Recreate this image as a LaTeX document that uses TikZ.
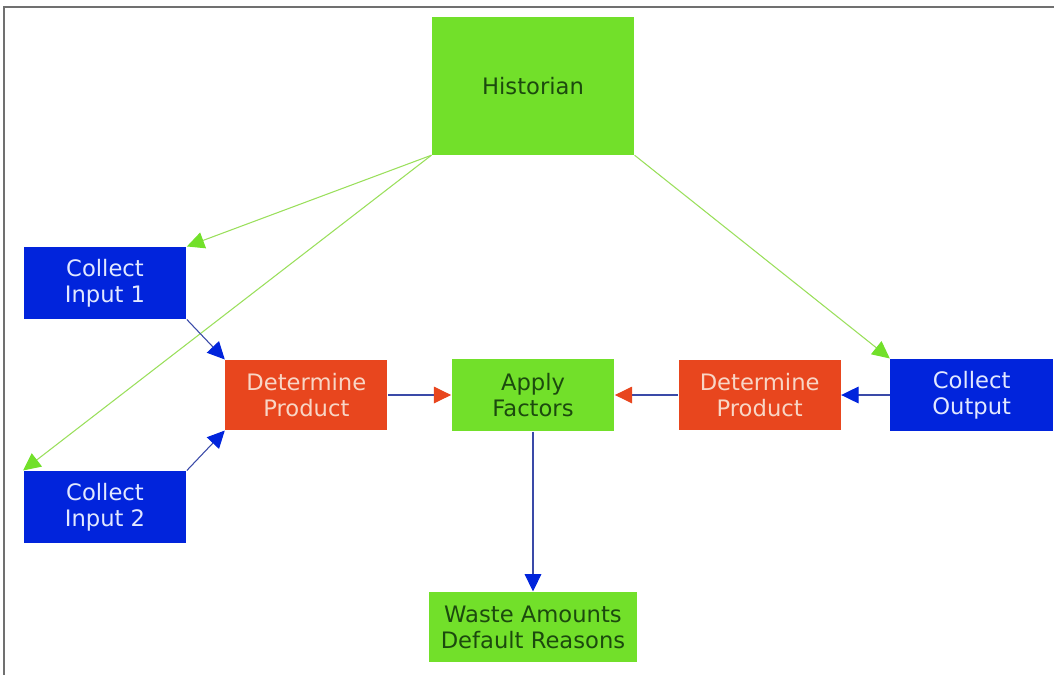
\documentclass[tikz,border=0pt]{standalone}
\usepackage{fontspec}
\setmainfont{DejaVu Sans}
\usetikzlibrary{arrows.meta}
\definecolor{boxgreen}{HTML}{72E02A}
\definecolor{boxblue}{HTML}{0124DC}
\definecolor{boxred}{HTML}{E8461E}
\definecolor{txtgreen}{HTML}{1C4A0E}
\definecolor{txtblue}{HTML}{E2E8FF}
\definecolor{txtred}{HTML}{F8D6C6}
\definecolor{linegreen}{HTML}{9ADF5C}
\definecolor{lineblue}{HTML}{3A4AA8}
\definecolor{framegray}{HTML}{707070}

\begin{document}
\begin{tikzpicture}[x=0.75pt,y=0.75pt,line width=0.8pt,
    every node/.style={font=\fontsize{17}{19.5}\selectfont,align=center,inner sep=0pt},
    green node/.style={fill=boxgreen,text=txtgreen,minimum width=122pt,minimum height=54pt},
    blue node/.style={fill=boxblue,text=txtblue,minimum width=122pt,minimum height=54pt},
    red node/.style={fill=boxred,text=txtred,minimum width=121.5pt,minimum height=52.5pt},
    garrow/.style={linegreen,-{Triangle[length=13pt,width=12.5pt,color=boxgreen]}},
    barrow/.style={lineblue,-{Triangle[length=13pt,width=12.5pt,color=boxblue]}},
    rarrow/.style={lineblue,-{Triangle[length=13pt,width=12.5pt,color=boxred]}}]

            \useasboundingbox (0,0) rectangle (1054,-675);
            \draw[framegray,line width=1.5pt] (4,-675) -- (4,-7) -- (1054,-7);

            \node[green node, minimum width=151.5pt, minimum height=103pt] (1) at (533,-86) {Historian};
            \node[green node] (2) [below of = 1, node distance=231.75pt] {Apply\\Factors};
            \node[red node] (3) [left of = 2, node distance=170pt] {Determine\\Product};
            \node[red node] (4) [right of = 2, node distance=170pt] {Determine\\Product};
            \node[blue node] (5) [right of = 4, node distance=159pt] {Collect\\Output};
            \node[blue node] (6) at (105,-283) {Collect\\Input 1};
            \node[blue node] (7) at (105,-507) {Collect\\Input 2};
            \node[green node, minimum width=156pt, minimum height=52.5pt] (8) [below of = 2, node distance=174pt] {Waste Amounts\\Default Reasons};

            \draw[garrow] (1.south west) to (6.north east);
            \draw[garrow] (1.south west) to (7.north west);
            \draw[garrow] (1.south east) to (5.north west);
            \draw[barrow] (6.south east) to (3.north west);
            \draw[barrow] (7.north east) to (3.south west);
            \draw[rarrow] (3) to (2);
            \draw[rarrow] (4) to (2);
            \draw[barrow] (5) to (4);
            \draw[barrow] (2) to (8);

            ;
        \end{tikzpicture}
\end{document}
